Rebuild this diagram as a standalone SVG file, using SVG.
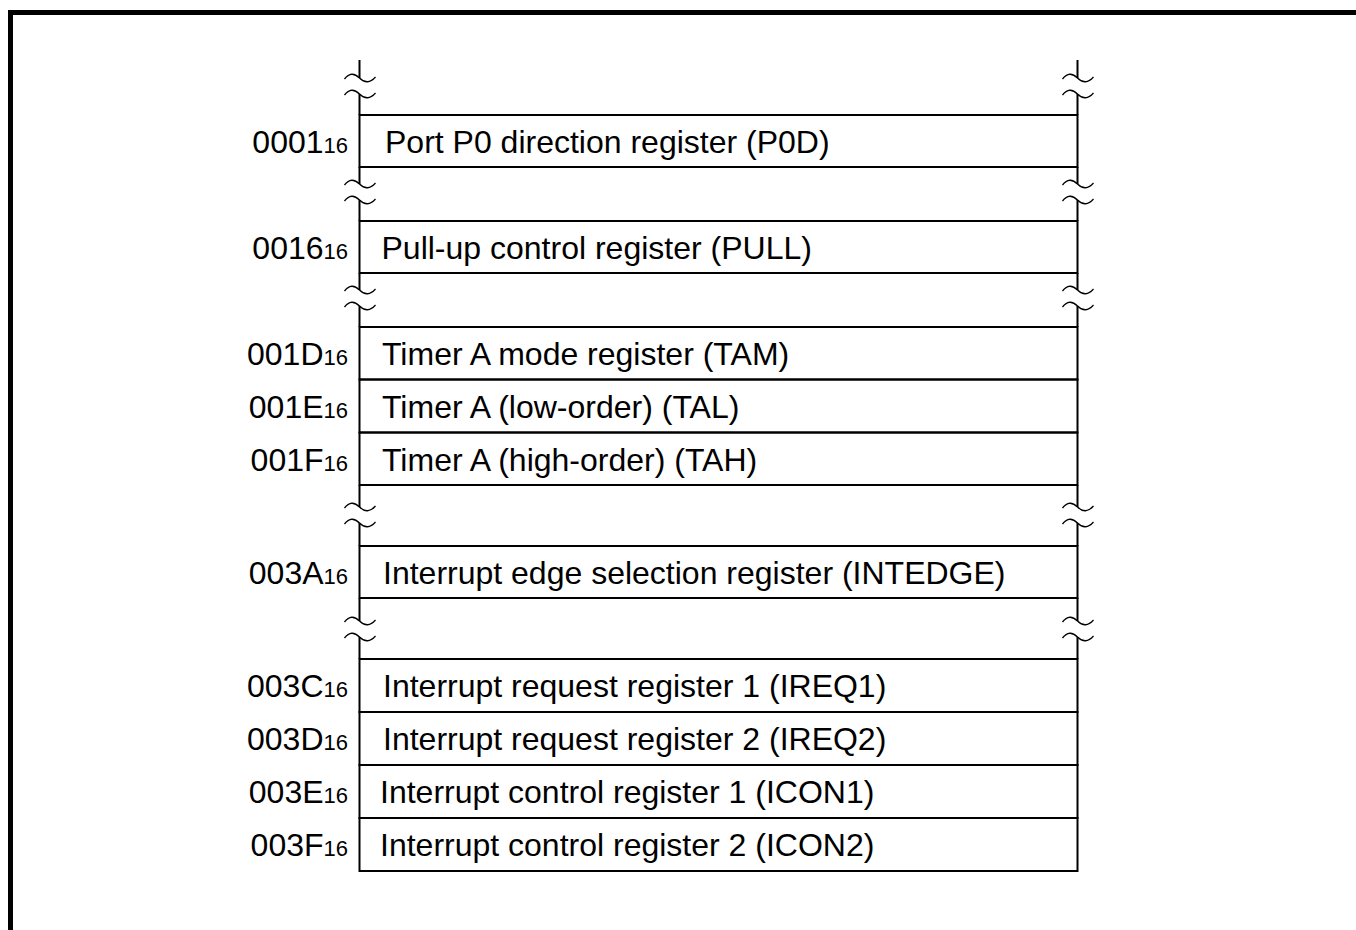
<svg xmlns="http://www.w3.org/2000/svg" width="1356" height="930" viewBox="0 0 1356 930">
<style>
.frame{fill:none;stroke:#000;stroke-width:5}
.cell{fill:none;stroke:#000;stroke-width:2}
.vl{fill:none;stroke:#000;stroke-width:2}
.wave{fill:none;stroke:#000;stroke-width:1.3}
.lbl{font-family:"Liberation Sans",Arial,sans-serif;font-size:32px;fill:#000}
.adr{font-family:"Liberation Sans",Arial,sans-serif;font-size:32px;fill:#000;text-anchor:end}
.sub{font-size:22px}
</style>
<defs>
<path id="w" class="wave" d="M-15,1 Q-8,-8 0,0 Q8,8 16,-1"/>
</defs>
<rect width="1356" height="930" fill="#fff"/>
<path class="frame" d="M10.5,930 V12.5 H1356"/>

<g id="breaks">
  <path class="vl" d="M359.5,60 V78 M359.5,94 V115 M1077.5,60 V78 M1077.5,94 V115"/>
  <path class="vl" d="M359.5,167 V184 M359.5,200 V221 M1077.5,167 V184 M1077.5,200 V221"/>
  <path class="vl" d="M359.5,273 V290 M359.5,306 V327 M1077.5,273 V290 M1077.5,306 V327"/>
  <path class="vl" d="M359.5,485 V507 M359.5,523 V546 M1077.5,485 V507 M1077.5,523 V546"/>
  <path class="vl" d="M359.5,598 V621 M359.5,637 V659 M1077.5,598 V621 M1077.5,637 V659"/>
  <use href="#w" x="359.5" y="78"/><use href="#w" x="359.5" y="94"/>
  <use href="#w" x="1077.5" y="78"/><use href="#w" x="1077.5" y="94"/>
  <use href="#w" x="359.5" y="184"/><use href="#w" x="359.5" y="200"/>
  <use href="#w" x="1077.5" y="184"/><use href="#w" x="1077.5" y="200"/>
  <use href="#w" x="359.5" y="290"/><use href="#w" x="359.5" y="306"/>
  <use href="#w" x="1077.5" y="290"/><use href="#w" x="1077.5" y="306"/>
  <use href="#w" x="359.5" y="507"/><use href="#w" x="359.5" y="523"/>
  <use href="#w" x="1077.5" y="507"/><use href="#w" x="1077.5" y="523"/>
  <use href="#w" x="359.5" y="621"/><use href="#w" x="359.5" y="637"/>
  <use href="#w" x="1077.5" y="621"/><use href="#w" x="1077.5" y="637"/>
</g>

<g id="reg-0001">
  <rect class="cell" x="359.5" y="115" width="718" height="52"/>
  <text class="adr" x="348" y="153">0001<tspan class="sub">16</tspan></text>
  <text class="lbl" x="385" y="153">Port P0 direction register (P0D)</text>
</g>
<g id="reg-0016">
  <rect class="cell" x="359.5" y="221" width="718" height="52"/>
  <text class="adr" x="348" y="259">0016<tspan class="sub">16</tspan></text>
  <text class="lbl" x="381.5" y="259">Pull-up control register (PULL)</text>
</g>
<g id="reg-001D">
  <rect class="cell" x="359.5" y="327" width="718" height="52.5"/>
  <text class="adr" x="348" y="365">001D<tspan class="sub">16</tspan></text>
  <text class="lbl" x="382" y="365">Timer A mode register (TAM)</text>
</g>
<g id="reg-001E">
  <rect class="cell" x="359.5" y="379.5" width="718" height="53"/>
  <text class="adr" x="348" y="418">001E<tspan class="sub">16</tspan></text>
  <text class="lbl" x="382" y="418">Timer A (low-order) (TAL)</text>
</g>
<g id="reg-001F">
  <rect class="cell" x="359.5" y="432.5" width="718" height="52.5"/>
  <text class="adr" x="348" y="471">001F<tspan class="sub">16</tspan></text>
  <text class="lbl" x="382" y="471">Timer A (high-order) (TAH)</text>
</g>
<g id="reg-003A">
  <rect class="cell" x="359.5" y="546" width="718" height="52"/>
  <text class="adr" x="348" y="584">003A<tspan class="sub">16</tspan></text>
  <text class="lbl" x="383" y="584">Interrupt edge selection register (INTEDGE)</text>
</g>
<g id="reg-003C">
  <rect class="cell" x="359.5" y="659" width="718" height="53"/>
  <text class="adr" x="348" y="697">003C<tspan class="sub">16</tspan></text>
  <text class="lbl" x="383" y="697">Interrupt request register 1 (IREQ1)</text>
</g>
<g id="reg-003D">
  <rect class="cell" x="359.5" y="712" width="718" height="53"/>
  <text class="adr" x="348" y="750">003D<tspan class="sub">16</tspan></text>
  <text class="lbl" x="383" y="750">Interrupt request register 2 (IREQ2)</text>
</g>
<g id="reg-003E">
  <rect class="cell" x="359.5" y="765" width="718" height="53"/>
  <text class="adr" x="348" y="803">003E<tspan class="sub">16</tspan></text>
  <text class="lbl" x="380" y="803">Interrupt control register 1 (ICON1)</text>
</g>
<g id="reg-003F">
  <rect class="cell" x="359.5" y="818" width="718" height="53"/>
  <text class="adr" x="348" y="856">003F<tspan class="sub">16</tspan></text>
  <text class="lbl" x="380" y="856">Interrupt control register 2 (ICON2)</text>
</g>
</svg>
